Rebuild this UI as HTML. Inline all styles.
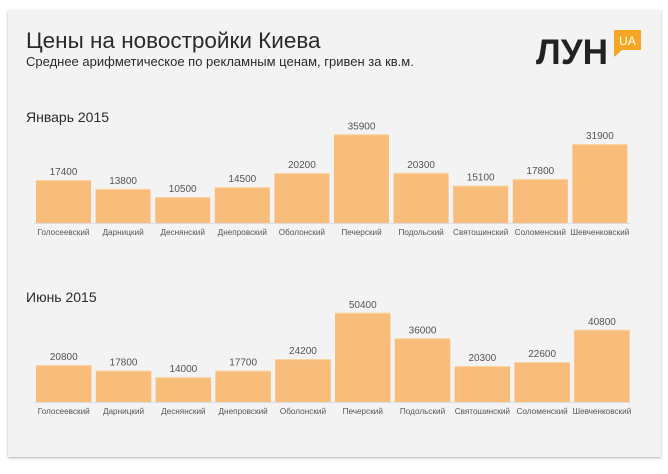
<!DOCTYPE html>
<html><head><meta charset="utf-8"><style>
body{margin:0;width:668px;height:469px;background:#fff;overflow:hidden;font-family:"Liberation Sans","DejaVu Sans",sans-serif}
</style></head><body>
<svg width="668" height="469" xmlns="http://www.w3.org/2000/svg" font-family="Liberation Sans, DejaVu Sans, sans-serif">
<defs><filter id="s" x="-5%" y="-5%" width="110%" height="110%"><feDropShadow dx="0" dy="1" stdDeviation="1.2" flood-opacity="0.3"/></filter></defs>
<rect x="8" y="10" width="653" height="447" fill="#f3f3f3" filter="url(#s)"/>
<text x="26" y="48" font-size="22.5" fill="#2a2a2a">Цены на новостройки Киева</text>
<text x="26" y="66" font-size="13" fill="#2a2a2a">Среднее арифметическое по рекламным ценам, гривен за кв.м.</text>
<text x="536" y="64" font-size="35" font-weight="bold" fill="#222" textLength="72" lengthAdjust="spacingAndGlyphs">ЛУН</text>
<rect x="614" y="30" width="27" height="20" fill="#f5a623"/>
<polygon points="614,50 622,50 614,57" fill="#f5a623"/>
<text x="627.5" y="45" font-size="12" fill="#fff" text-anchor="middle">UA</text>
<text x="26" y="122" font-size="14" fill="#2a2a2a">Январь 2015</text>
<text x="26" y="302" font-size="14" fill="#2a2a2a">Июнь 2015</text>
<g id="c"></g>
</svg>
<script>
var names=["Голосеевский","Дарницкий","Деснянский","Днепровский","Оболонский","Печерский","Подольский","Святошинский","Соломенский","Шевченковский"];
var jan=[17400,13800,10500,14500,20200,35900,20300,15100,17800,31900];
var jun=[20800,17800,14000,17700,24200,50400,36000,20300,22600,40800];
var g=document.getElementById('c'),h='';
function chart(d,base,k,x0,pitch,w){
 h+='<line x1="34" x2="630" y1="'+(base+0.5)+'" y2="'+(base+0.5)+'" stroke="#ddd"/>';
 for(var i=0;i<10;i++){var x=x0+i*pitch,hh=d[i]*k,t=base-hh;
  h+='<rect x="'+x+'" y="'+t+'" width="'+w+'" height="'+hh+'" fill="#f8bd7a"/>';
  h+='<rect x="'+x+'" y="'+t+'" width="'+w+'" height="1" fill="#fbd3a3"/>';
  h+='<text x="'+(x+w/2)+'" y="'+(t-5)+'" font-size="10" fill="#555" text-anchor="middle">'+d[i]+'</text>';
  h+='<text x="'+(x+w/2)+'" y="'+(base+12)+'" font-size="8.2" fill="#555" text-anchor="middle">'+names[i]+'</text>';}
}
chart(jan,223,0.00247,36,59.6,55);
chart(jun,402,0.00177,36,59.8,55.5);
g.innerHTML=h;
</script>
</body></html>
